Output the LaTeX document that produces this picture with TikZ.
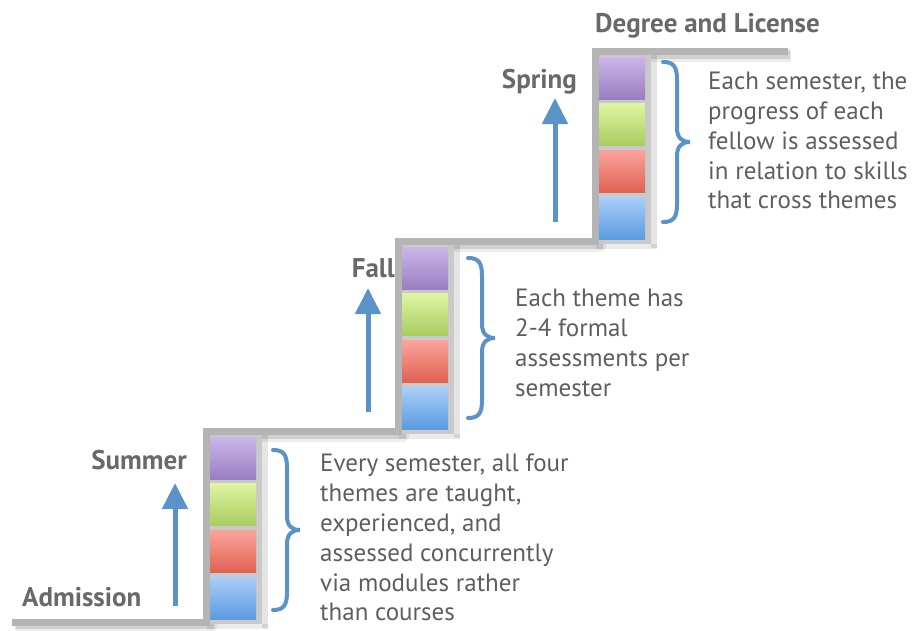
\documentclass[tikz,border=0pt]{standalone}
\usepackage{fontspec}
\setmainfont{PT Sans}
\usetikzlibrary{arrows.meta}
\definecolor{stair}{HTML}{B4B4B4}
\definecolor{colfill}{HTML}{C9C9C9}
\definecolor{arr}{HTML}{5B93C8}
\definecolor{txt}{HTML}{5E5E5E}
\definecolor{lbl}{HTML}{696969}
\definecolor{pT}{HTML}{CBB6E8}
\definecolor{pB}{HTML}{9A7EC2}
\definecolor{gT}{HTML}{E0F5A2}
\definecolor{gB}{HTML}{A9CD62}
\definecolor{rT}{HTML}{FAA59C}
\definecolor{rB}{HTML}{E06253}
\definecolor{bT}{HTML}{AACEF8}
\definecolor{bB}{HTML}{5C9BE0}
\newcommand\descfont{\fontsize{25}{29.8}\selectfont}
\newcommand\lblfont{\bfseries\fontsize{27}{30}\selectfont}
\tikzset{
  column/.style={fill=colfill, draw=none, minimum width=59pt, minimum height=196pt, inner sep=0pt, outer sep=0pt},
  tbox/.style={draw=none, minimum width=46pt, minimum height=42pt, inner sep=0pt, outer sep=0pt},
  uparrow/.style={draw=arr, line width=5pt, -{Triangle[length=26pt,width=25pt]}},
  bracestyle/.style={draw=arr, line width=4pt, line cap=round},
  desc/.style={text=txt, font=\descfont, align=left, inner sep=0pt},
  lbl/.style={text=lbl, font=\lblfont, inner sep=0pt},
  stairline/.style={draw=stair, line width=7pt}
}
\begin{document}
\begin{tikzpicture}[x=1pt,y=-1pt]
\useasboundingbox (0,0) rectangle (917,630);
% stair shadow
\draw[black, opacity=0.07, line width=13pt, line join=round] (16,626) -- (210.5,626) -- (210.5,435.5) -- (402.5,435.5) -- (402.5,245.5) -- (599.5,245.5) -- (599.5,55.5) -- (791,55.5);
\draw[black, opacity=0.12, line width=8pt] (15,625) -- (209.5,625) -- (209.5,434.5) -- (401.5,434.5) -- (401.5,244.5) -- (598.5,244.5) -- (598.5,54.5) -- (790,54.5);
% columns and theme boxes
\foreach \i/\cx/\cy in {1/203/428, 2/395/238, 3/592/48} {
  \fill[black, opacity=0.10] (\cx+59,\cy+6) rectangle (\cx+65,\cy+200);
  \fill[black, opacity=0.08] (\cx+4,\cy+196) rectangle (\cx+65,\cy+201);
  \node[column, anchor=north west] (col\i) at (\cx,\cy) {};
}
\draw[stairline] (12,622) -- (206.5,622) -- (206.5,431.5) -- (398.5,431.5) -- (398.5,241.5) -- (595.5,241.5) -- (595.5,51.5) -- (788,51.5);
\foreach \i/\cx/\cy in {1/203/428, 2/395/238, 3/592/48} {
  \node[tbox, top color=pT, bottom color=pB, anchor=north west] (p\i) at (\cx+7,\cy+9) {};
  \node[tbox, top color=gT, bottom color=gB, anchor=north west] (g\i) at (\cx+7,\cy+55) {};
  \node[tbox, top color=rT, bottom color=rB, anchor=north west] (r\i) at (\cx+7,\cy+102) {};
  \node[tbox, top color=bT, bottom color=bB, anchor=north west] (b\i) at (\cx+7,\cy+149) {};
}
% arrows
\coordinate (a1s) at (175,606); \coordinate (a1e) at (175,483);
\coordinate (a2s) at (368,412); \coordinate (a2e) at (368,288);
\coordinate (a3s) at (555,222); \coordinate (a3e) at (555,98);
\draw[uparrow] (a1s) -- (a1e);
\draw[uparrow] (a2s) -- (a2e);
\draw[uparrow] (a3s) -- (a3e);
% braces
\foreach \bx/\by in {273/450, 468/258, 663/62} {
  \draw[bracestyle] (\bx,\by) .. controls (\bx+11,\by) and (\bx+14,\by+5) .. (\bx+14,\by+18) -- (\bx+14,\by+66) .. controls (\bx+14,\by+76) and (\bx+19,\by+80) .. (\bx+27,\by+80) .. controls (\bx+19,\by+80) and (\bx+14,\by+84) .. (\bx+14,\by+94) -- (\bx+14,\by+142) .. controls (\bx+14,\by+155) and (\bx+11,\by+160) .. (\bx,\by+160);
}
% labels
\node[lbl, anchor=base west] (deg) at (595,32) {Degree and License};
\node[lbl, anchor=base east] (spr) at (577,88) {Spring};
\node[lbl, anchor=base east] (fal) at (395,277) {Fall};
\node[lbl, anchor=base east] (sum) at (187,469) {Summer};
\node[lbl, anchor=base west] (adm) at (22,606) {Admission};
% descriptions
\node[desc, anchor=north west] (d1) at (320,454) {Every semester, all four\\themes are taught,\\experienced, and\\assessed concurrently\\via modules rather\\than courses};
\node[desc, anchor=north west] (d2) at (515,289) {Each theme has\\2-4 formal\\assessments per\\semester};
\node[desc, anchor=north west] (d3) at (708,72) {Each semester, the\\progress of each\\fellow is assessed\\in relation to skills\\that cross themes};
\end{tikzpicture}
\end{document}
